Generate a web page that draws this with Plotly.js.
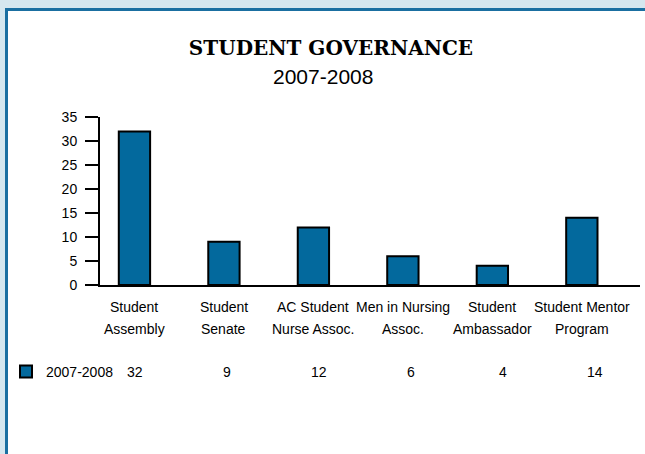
<!DOCTYPE html>
<html>
<head>
<meta charset="utf-8">
<script src="https://cdn.plot.ly/plotly-3.0.1.min.js"></script>
<style>
  body { margin: 0; background: #d5e7ef; width: 645px; height: 454px; overflow: hidden; }
  #frame { position: absolute; left: 5px; top: 8px; width: 700px; height: 500px;
           background: #ffffff; border-left: 3px solid #1a6fa1; border-top: 3px solid #1a6fa1; }
  #chart { position: absolute; left: 0; top: 0; width: 645px; height: 454px; }
</style>
</head>
<body>
<div id="frame"></div>
<div id="chart"></div>
<script>
const chartTitle = "STUDENT GOVERNANCE";
const chartSubtitle = "2007-2008";
const categories = ["Student<br>Assembly", "Student<br>Senate", "AC Student<br>Nurse Assoc.",
                    "Men in Nursing<br>Assoc.", "Student<br>Ambassador", "Student Mentor<br>Program"];
const seriesName = "2007-2008";
const values = [32, 9, 12, 6, 4, 14];
const yTicks = [0, 5, 10, 15, 20, 25, 30, 35];

const barColor = "#03699d";
const textFont = {family: "Liberation Sans, Arial, sans-serif", size: 14, color: "#000"};

// plot area: x 100..640 px, y 117..285 px
const plotL = 100, plotR = 640, plotT = 117, plotB = 285;
const plotW = plotR - plotL, plotH = plotB - plotT;

const annotations = [];

// second title line
annotations.push({
    text: chartSubtitle, x: (323 - plotL) / plotW, xref: "paper",
    y: (plotB - 76) / plotH, yref: "paper", xanchor: "center", yanchor: "middle",
    showarrow: false, font: {family: "Liberation Sans, Arial, sans-serif", size: 21, color: "#000"}
});

// category labels, one annotation per line so the spacing matches
categories.forEach(function (cat) {
    cat.split("<br>").forEach(function (line, j) {
        annotations.push({
            text: line, x: cat, xref: "x",
            y: (plotB - (307 + 22 * j)) / plotH, yref: "paper",
            xanchor: "center", yanchor: "middle",
            showarrow: false, font: textFont
        });
    });
});

// data table row
values.forEach(function (v, i) {
    annotations.push({
        text: String(v), x: (135 + 92 * i - plotL) / plotW, xref: "paper",
        y: (plotB - 372) / plotH, yref: "paper",
        xanchor: "center", yanchor: "middle",
        showarrow: false, font: textFont
    });
});

const data = [{
    type: "bar",
    name: seriesName,
    x: categories,
    y: values,
    width: 0.35,
    marker: {color: barColor, line: {color: "#000", width: 2}},
    hoverinfo: "none"
}];

const layout = {
    width: 645, height: 454,
    margin: {l: plotL, r: 645 - plotR, t: plotT, b: 454 - plotB, pad: 0},
    paper_bgcolor: "rgba(0,0,0,0)",
    plot_bgcolor: "rgba(0,0,0,0)",
    title: {
        text: chartTitle,
        font: {family: "DejaVu Serif", size: 20, weight: "bold", stretch: "condensed", color: "#000"},
        x: (331 / 645), xref: "container", xanchor: "center",
        y: 1 - 48 / 454, yref: "container", yanchor: "middle"
    },
    showlegend: true,
    legend: {
        x: (6 - plotL) / plotW, xanchor: "left",
        y: (plotB - 372) / plotH, yanchor: "middle",
        font: textFont, bgcolor: "rgba(0,0,0,0)", itemwidth: 30
    },
    xaxis: {
        type: "category",
        range: [-0.385, 5.65],
        showticklabels: false,
        ticks: "",
        showgrid: false, zeroline: false,
        showline: true, linecolor: "#000", linewidth: 2,
        fixedrange: true
    },
    yaxis: {
        range: [0, 35],
        tickvals: yTicks,
        ticks: "outside", ticklen: 13, tickwidth: 2, tickcolor: "#000",
        ticklabelstandoff: 5,
        tickfont: textFont,
        showgrid: false, zeroline: false,
        showline: true, linecolor: "#000", linewidth: 2,
        fixedrange: true
    },
    annotations: annotations
};

Plotly.newPlot("chart", data, layout, {staticPlot: true, displayModeBar: false});
</script>
</body>
</html>
